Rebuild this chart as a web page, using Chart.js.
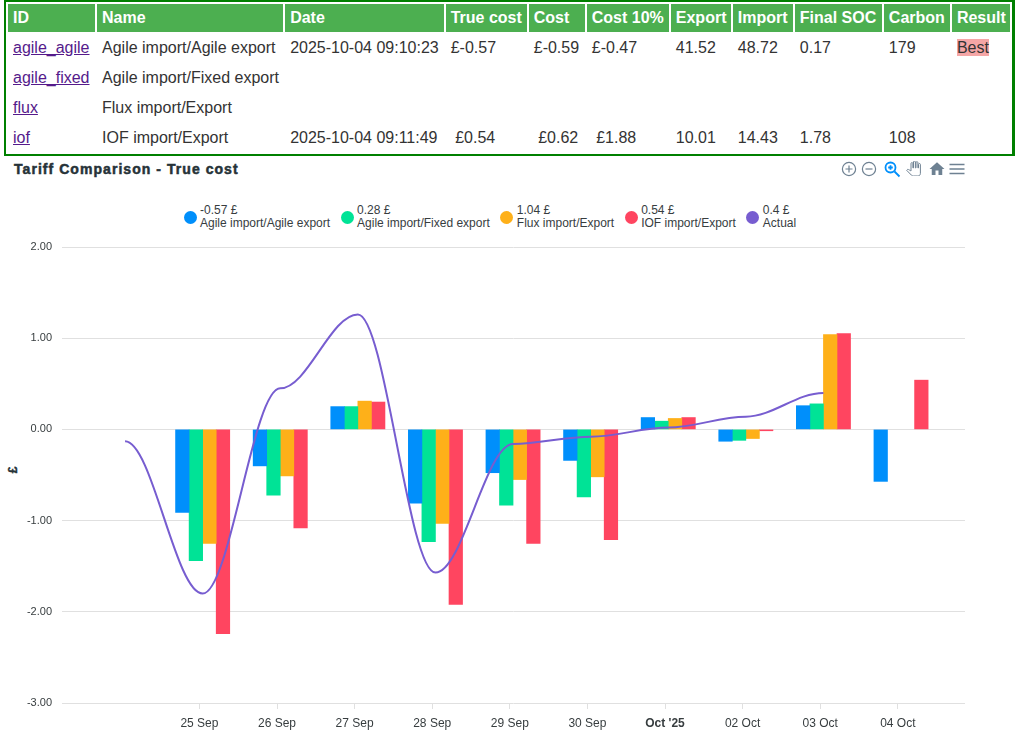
<!DOCTYPE html>
<html>
<head>
<meta charset="utf-8">
<script src="https://cdn.jsdelivr.net/npm/chart.js@4"></script>
<style>
    html, body { margin: 0; padding: 0; background: #fff; overflow: hidden; }
    body { width: 1028px; height: 756px; position: relative; font-family: "Liberation Sans", Arial, sans-serif; color: #333; }
    table { position: absolute; left: 4px; top: 0; width: 1011px; table-layout: fixed; border: 2px solid #008000; border-right-width: 3.5px; border-collapse: separate; border-spacing: 2px; box-sizing: border-box; font-size: 16px; }
    th { background: #4CAF50; color: #fff; text-align: left; padding: 0 5px; height: 28px; font-weight: bold; white-space: nowrap; overflow: hidden; }
    td { padding: 0 5px; height: 28px; white-space: nowrap; }
    a { color: #551A8B; }
    .best { background: #F5A6A6; }
    #title { position: absolute; left: 14px; top: 161px; font-size: 14px; font-weight: bold; color: #263238; letter-spacing: 1.05px; line-height: 16px; -webkit-text-stroke: 0.5px #263238; }
    #ytitle { position: absolute; left: 6px; top: 463px; width: 14px; height: 14px; line-height: 14px; text-align: center; font-size: 12px; font-weight: bold; color: #263238; transform: rotate(-90deg); -webkit-text-stroke: 0.4px #263238; }
    #toolbar svg { position: absolute; top: 160px; width: 18px; height: 18px; }
    #legend { position: absolute; left: 183.5px; top: 203.5px; display: flex; font-size: 12px; line-height: 13.5px; color: #373d3f; }
    .item { display: flex; align-items: center; margin-right: 10.5px; }
    .dot { width: 13px; height: 13px; border-radius: 50%; margin-right: 3.5px; }
    #wrap { position: absolute; left: 0; top: 160px; width: 1028px; height: 580px; }
</style>
</head>
<body>
<table id="results"></table>
<div id="title">Tariff Comparison - True cost</div>
<div id="ytitle">£</div>
<div id="toolbar">
    <svg style="left:840px" viewBox="0 0 18 18" fill="none" stroke="#6E8192" stroke-width="1.2"><circle cx="9" cy="9" r="6.6"/><path d="M9 5.5v7M5.5 9h7"/></svg>
    <svg style="left:860px" viewBox="0 0 18 18" fill="none" stroke="#6E8192" stroke-width="1.2"><circle cx="9" cy="9" r="6.6"/><path d="M5.5 9h7"/></svg>
    <svg style="left:883px" viewBox="0 0 18 18" fill="none" stroke="#008FFB" stroke-width="1.8"><circle cx="7.5" cy="7.5" r="5"/><path d="M11.5 11.5l5 5M7.5 5.2v4.6M5.2 7.5h4.6"/></svg>
    <svg style="left:906px;top:161px;width:15px;height:15px" viewBox="0 0 24 24" fill="none" stroke="#6E8192" stroke-width="1.6"><path d="M23 5.5V20c0 2.2-1.8 4-4 4h-7.3c-1.08 0-2.1-.43-2.85-1.19L1 14.83s1.26-1.23 1.3-1.25c.22-.19.49-.29.79-.29.22 0 .42.06.6.16.04.01 4.31 2.46 4.31 2.46V4c0-.83.67-1.5 1.5-1.5S11 3.17 11 4v7h1V1.5c0-.83.67-1.5 1.5-1.5S15 .67 15 1.5V11h1V2.5c0-.83.67-1.5 1.5-1.5s1.5.67 1.5 1.5V11h1V5.5c0-.83.67-1.5 1.5-1.5s1.5.67 1.5 1.5z"/></svg>
    <svg style="left:928px" viewBox="0 0 24 24" fill="#6E8192"><path d="M10 20v-6h4v6h5v-8h3L12 3 2 12h3v8z"/></svg>
    <svg style="left:948px" viewBox="0 0 18 18" fill="none" stroke="#6E8192" stroke-width="1.6"><path d="M1.5 4.5h15M1.5 9h15M1.5 13.5h15"/></svg>
</div>
<div id="legend"></div>
<div id="wrap"><canvas id="myChart"></canvas></div>

<script>
const tableHeaders = ['ID', 'Name', 'Date', 'True cost', 'Cost', 'Cost 10%', 'Export', 'Import', 'Final SOC', 'Carbon', 'Result'];
const tableWidths = [87, 186, 158.5, 81, 56, 82, 60, 60, 87, 66, 58];
const tableRows = [
    ['agile_agile', 'Agile import/Agile export', '2025-10-04 09:10:23', '£-0.57', '£-0.59', '£-0.47', '41.52', '48.72', '0.17', '179', 'Best'],
    ['agile_fixed', 'Agile import/Fixed export', '', '', '', '', '', '', '', '', ''],
    ['flux', 'Flux import/Export', '', '', '', '', '', '', '', '', ''],
    ['iof', 'IOF import/Export', '2025-10-04 09:11:49', '\u00a0£0.54', '\u00a0£0.62', '\u00a0£1.88', '10.01', '14.43', '1.78', '108', ''],
];

const tickLabels = ['25 Sep', '26 Sep', '27 Sep', '28 Sep', '29 Sep', '30 Sep', "Oct '25", '02 Oct', '03 Oct', '04 Oct'];
const barDays = [0, 1, 2, 3, 4, 5, 6, 7, 8, 9];
const lineDays = [-1, 0, 1, 2, 3, 4, 5, 6, 7, 8];
const hourOffset = 1 / 24; // points sit at 01:00 local

const agileAgile = [-0.91, -0.40, 0.25, -0.81, -0.475, -0.34, 0.13, -0.13, 0.26, -0.57];
const agileFixed = [-1.44, -0.72, 0.25, -1.23, -0.83, -0.74, 0.09, -0.12, 0.28, null];
const fluxExport = [-1.25, -0.51, 0.31, -1.03, -0.55, -0.52, 0.12, -0.10, 1.04, null];
const iofExport = [-2.24, -1.08, 0.30, -1.92, -1.25, -1.21, 0.13, -0.015, 1.05, 0.54];
const actual = [-0.13, -1.80, 0.45, 1.26, -1.57, -0.16, -0.08, 0.02, 0.14, 0.40];

const seriesNames = ['Agile import/Agile export', 'Agile import/Fixed export', 'Flux import/Export', 'IOF import/Export', 'Actual'];
const seriesTotals = ['-0.57 £', '0.28 £', '1.04 £', '0.54 £', '0.4 £'];
const seriesColors = ['#008FFB', '#00E396', '#FEB019', '#FF4560', '#775DD0'];

// results table
const table = document.getElementById('results');
const colgroup = document.createElement('colgroup');
tableWidths.forEach(w => {
    const col = document.createElement('col');
    col.style.width = w + 'px';
    colgroup.appendChild(col);
});
table.appendChild(colgroup);
const headRow = table.insertRow();
tableHeaders.forEach(h => {
    const th = document.createElement('th');
    th.textContent = h;
    headRow.appendChild(th);
});
tableRows.forEach(row => {
    const tr = table.insertRow();
    row.forEach((value, i) => {
        const td = tr.insertCell();
        if (i === 0) {
            const a = document.createElement('a');
            a.href = '#';
            a.textContent = value;
            td.appendChild(a);
        } else if (value === 'Best') {
            const span = document.createElement('span');
            span.className = 'best';
            span.textContent = value;
            td.appendChild(span);
        } else {
            td.textContent = value;
        }
    });
});

// legend
const legend = document.getElementById('legend');
seriesNames.forEach((name, i) => {
    const item = document.createElement('div');
    item.className = 'item';
    item.innerHTML = `<div class="dot" style="background:${seriesColors[i]}"></div><div>${seriesTotals[i]}<br>${name}</div>`;
    legend.appendChild(item);
});

const barSeries = (values, i) => ({
    type: 'bar',
    label: seriesNames[i],
    data: values.map((y, k) => ({ x: barDays[k] + hourOffset, y: y })),
    backgroundColor: seriesColors[i],
    barThickness: 13.55,
    order: 2,
});

// the line is flat at every point, so pull the control points out horizontally
const flatCurve = {
    id: 'flatCurve',
    beforeDatasetsDraw(chart) {
        const meta = chart.getDatasetMeta(4);
        meta.dataset.updateControlPoints(chart.chartArea);
        const points = meta.data;
        const reach = (points[1].x - points[0].x) * 0.35;
        points.forEach(p => {
            p.cp1x = p.x - reach;
            p.cp1y = p.y;
            p.cp2x = p.x + reach;
            p.cp2y = p.y;
        });
    },
};

new Chart(document.getElementById('myChart'), {
    plugins: [flatCurve],
    data: {
        datasets: [
            barSeries(agileAgile, 0),
            barSeries(agileFixed, 1),
            barSeries(fluxExport, 2),
            barSeries(iofExport, 3),
            {
                type: 'line',
                label: seriesNames[4],
                data: actual.map((y, k) => ({ x: lineDays[k] + hourOffset, y: y })),
                borderColor: seriesColors[4],
                borderWidth: 2,
                pointRadius: 0,
                cubicInterpolationMode: 'monotone',
                fill: false,
                order: 1,
            },
        ],
    },
    options: {
        responsive: true,
        maintainAspectRatio: false,
        animation: false,
        layout: { padding: { top: 87, right: 63, left: 0, bottom: 0 } },
        plugins: { legend: { display: false }, tooltip: { enabled: false } },
        scales: {
            x: {
                type: 'linear',
                bounds: 'data',
                offset: false,
                min: -1.771,
                max: 9.866,
                afterBuildTicks: scale => {
                    scale.ticks = tickLabels.map((_, i) => ({ value: i }));
                },
                afterFit: scale => { scale.height = 37; },
                grid: { offset: false, drawOnChartArea: false, drawTicks: true, tickLength: 6, tickColor: '#e0e0e0' },
                border: { display: false },
                ticks: {
                    autoSkip: false,
                    maxRotation: 0,
                    padding: 7,
                    color: '#373d3f',
                    font: ctx => ({
                        family: '"Liberation Sans", Arial, sans-serif',
                        size: 12,
                        weight: tickLabels[ctx.index] === "Oct '25" ? 'bold' : 'normal',
                    }),
                    callback: (value, index) => tickLabels[index],
                },
            },
            y: {
                min: -3,
                max: 2,
                afterFit: scale => { scale.width = 62; },
                grid: { color: '#e0e0e0', drawTicks: false },
                border: { display: false },
                ticks: {
                    stepSize: 1,
                    padding: 10,
                    color: '#373d3f',
                    font: { family: '"Liberation Sans", Arial, sans-serif', size: 11 },
                    callback: value => value.toFixed(2),
                },
            },
        },
    },
});
</script>
</body>
</html>
